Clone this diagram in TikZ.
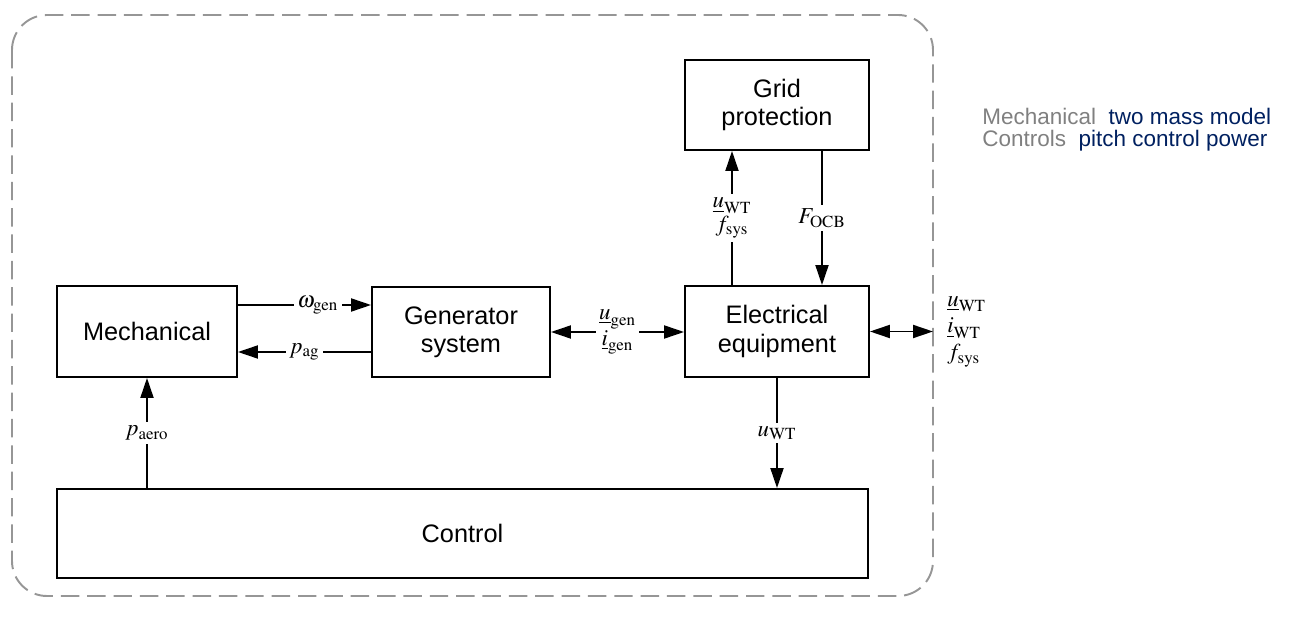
\documentclass[tikz,border=0pt]{standalone}
\usepackage{mathptmx}
\usepackage[no-math]{fontspec}
\setmainfont{Liberation Sans}
\usetikzlibrary{arrows.meta}
\definecolor{legendgray}{RGB}{128,128,128}
\definecolor{legendblue}{RGB}{0,32,96}
\definecolor{framegray}{RGB}{150,150,150}
\tikzset{
  block/.style={draw, rectangle, line width=1.1pt, align=center, inner sep=0pt,
    font=\fontsize{14.4}{16}\selectfont},
  sig/.style={line width=1.1pt, -{Triangle[length=4mm,width=2.6mm]}},
  dsig/.style={line width=1.1pt, {Triangle[length=4mm,width=2.6mm]}-{Triangle[length=4mm,width=2.6mm]}},
  lbl/.style={fill=white, inner sep=2pt, align=center, font=\fontsize{13}{13.5}\selectfont},
  legend/.style={anchor=base west, inner sep=0pt, font=\fontsize{12.8}{15}\selectfont},
}
\begin{document}
\begin{tikzpicture}[x=0.02cm,y=-0.02cm]
    \useasboundingbox (0,0) rectangle (1306,621);
    % frame
    \draw[framegray, line width=1.1pt, dash pattern=on 10.5pt off 4.5pt, rounded corners=0.7cm]
        (12,15) rectangle (933,596);
    % blocks
    \node[block, minimum width=3.6cm, minimum height=1.82cm] (mech) at (147,331.5) {Mechanical};
    \node[block, minimum width=3.56cm, minimum height=1.8cm] (gen) at (461,332) {Generator\\system};
    \node[block, minimum width=3.68cm, minimum height=1.82cm] (elec) at (777,331.5) {Electrical\\equipment};
    \node[block, minimum width=3.68cm, minimum height=1.8cm] (grid) at (777,105) {Grid\\protection};
    \node[block, minimum width=16.22cm, minimum height=1.78cm] (ctrl) at (462.5,533.5) {Control};
    % helper coordinates
    \coordinate (w) at (0,305);
    \coordinate (p) at (0,352);
    \coordinate (up) at (732,0);
    \coordinate (dn) at (822,0);
    \coordinate (ext) at (933,331.5);
    % signals
    \draw[sig] (mech.east |- w) -- node[lbl, pos=0.6]{$\omega_{\mathrm{gen}}$} (gen.west |- w);
    \draw[sig] (gen.west |- p) -- node[lbl]{$p_{\mathrm{ag}}$} (mech.east |- p);
    \draw[dsig] (gen.east) -- node[lbl]{$\underline{u}_{\mathrm{gen}}$\\$\underline{i}_{\mathrm{gen}}$} (gen.east -| elec.west);
    \draw[sig] (elec.north -| up) -- node[lbl]{$\underline{u}_{\mathrm{WT}}$\\$f_{\mathrm{sys}}$} (grid.south -| up);
    \draw[sig] (grid.south -| dn) -- node[lbl]{$F_{\mathrm{OCB}}$} (elec.north -| dn);
    \draw[dsig] (elec.east) -- (ext);
    \node[anchor=west, xshift=0.28cm, align=left, inner sep=0pt, font=\fontsize{13}{15.3}\selectfont] (extlbl) at (ext)
        {$\underline{u}_{\mathrm{WT}}$\\$\underline{i}_{\mathrm{WT}}$\\$f_{\mathrm{sys}}$};
    \draw[sig] (elec.south) -- node[lbl]{$u_{\mathrm{WT}}$} (elec.south |- ctrl.north);
    \draw[sig] (ctrl.north -| mech.south) -- node[lbl]{$p_{\mathrm{aero}}$} (mech.south);
    % legend
    \node[legend] (legmech) at (982,125) {\color{legendgray}Mechanical\ \ \color{legendblue}two mass model};
    \node[legend] (legctrl) at (982,147) {\color{legendgray}Controls\ \ \color{legendblue}pitch control power};
\end{tikzpicture}
\end{document}
